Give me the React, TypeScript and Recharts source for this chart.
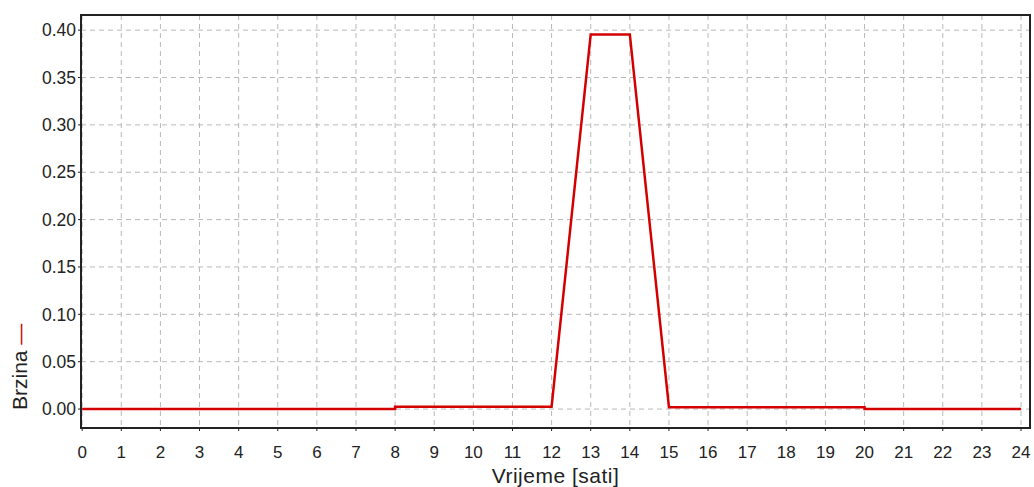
import React from "react";
import {
  LineChart,
  Line,
  XAxis,
  YAxis,
  CartesianGrid,
  ReferenceArea,
} from "recharts";

// Time in hours and speed values (step-like profile)
const hours = [0, 8, 8, 12, 13, 14, 15, 20, 20, 24];
const speed = [0.0, 0.0, 0.0025, 0.0025, 0.3955, 0.3955, 0.002, 0.002, 0.0, 0.0];
const xTicks = [0, 1, 2, 3, 4, 5, 6, 7, 8, 9, 10, 11, 12, 13, 14, 15, 16, 17, 18, 19, 20, 21, 22, 23, 24];
const yTicks = [0, 0.05, 0.1, 0.15, 0.2, 0.25, 0.3, 0.35, 0.4];

const data = hours.map((h, i) => ({ t: h, v: speed[i] }));

const X_DOMAIN: [number, number] = [-0.03, 24.23];
const Y_DOMAIN: [number, number] = [-0.02, 0.416];

const FONT = "Arial, 'Liberation Sans', sans-serif";

const YLabel = () => (
  <text
    transform="translate(27, 410) rotate(-90)"
    textAnchor="start"
    fontSize={21}
    fontFamily={FONT}
    fill="#222"
  >
    Brzina <tspan fill="#d40000">—</tspan>
  </text>
);

export default function App() {
  return (
    <div style={{ position: "absolute", left: 0, top: 0, background: "#fff" }}>
      <LineChart
        width={1034}
        height={487}
        data={data}
        margin={{ top: 15, right: 4, left: 0, bottom: 0 }}
      >
        <CartesianGrid
          stroke="#b8b8b8"
          strokeDasharray="5 4"
          verticalValues={xTicks}
          horizontalValues={yTicks}
        />
        <XAxis
          dataKey="t"
          type="number"
          domain={X_DOMAIN}
          ticks={xTicks}
          interval={0}
          allowDataOverflow
          height={59}
          tickSize={3}
          tickMargin={15}
          axisLine={{ stroke: "#222", strokeWidth: 2 }}
          tickLine={{ stroke: "#222" }}
          tick={{ fill: "#222", fontSize: 17, fontFamily: FONT }}
          label={{
            value: "Vrijeme [sati]",
            position: "insideBottom",
            offset: 4,
            fill: "#222",
            fontSize: 21,
            letterSpacing: 0.5,
            fontFamily: FONT,
          }}
        />
        <YAxis
          type="number"
          domain={Y_DOMAIN}
          ticks={yTicks}
          allowDataOverflow
          width={81}
          tickSize={3}
          tickMargin={2}
          axisLine={{ stroke: "#222", strokeWidth: 2 }}
          tickLine={{ stroke: "#222" }}
          tick={{ fill: "#222", fontSize: 17.5, fontFamily: FONT }}
          tickFormatter={(v: number) => v.toFixed(2)}
          label={<YLabel />}
        />
        <ReferenceArea
          x1={X_DOMAIN[0]}
          x2={X_DOMAIN[1]}
          y1={Y_DOMAIN[0]}
          y2={Y_DOMAIN[1]}
          fill="none"
          stroke="#222"
          strokeWidth={2}
          ifOverflow="visible"
        />
        <Line
          type="linear"
          dataKey="v"
          stroke="#d40000"
          strokeWidth={2.5}
          dot={false}
          isAnimationActive={false}
        />
      </LineChart>
    </div>
  );
}
